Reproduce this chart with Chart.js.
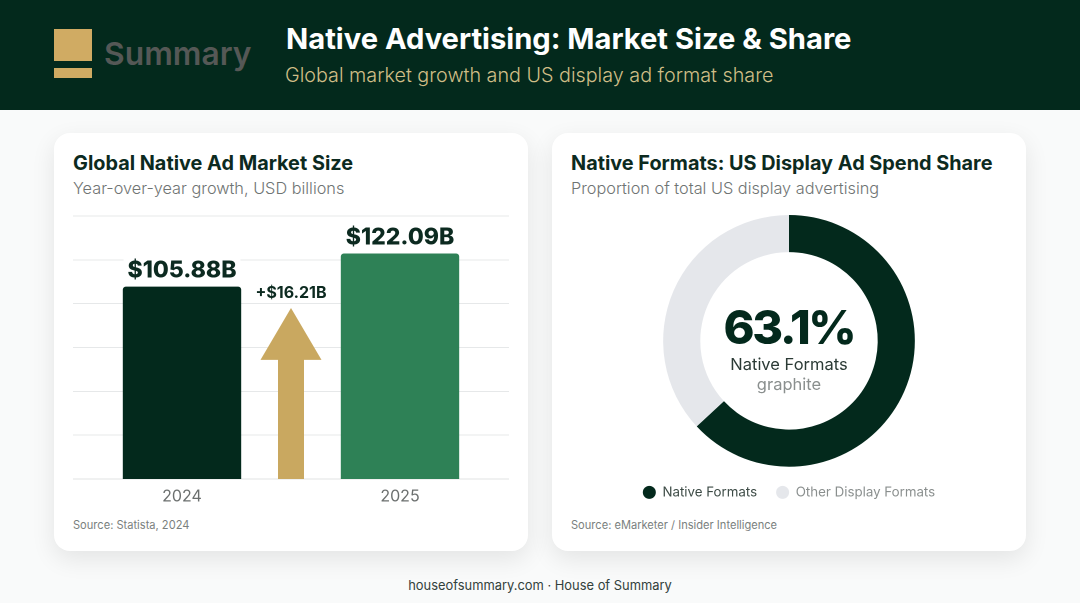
<!DOCTYPE html>
<html>
<head>
<meta charset="utf-8">
<title>Native Advertising: Market Size & Share</title>
<script src="https://cdn.jsdelivr.net/npm/chart.js@4"></script>
<style>
  * { box-sizing: border-box; margin: 0; padding: 0; }
  html, body { width: 1080px; height: 603px; overflow: hidden; background: #f9fafa; font-family: Inter, "Noto Sans", sans-serif; }
  .abs { position: absolute; white-space: nowrap; }
  #header { position: absolute; left: 0; top: 0; width: 1080px; height: 110px; background: #03291c; }
  #logoTop { left: 54px; top: 29px; width: 38px; height: 32px; background: #d0ab63; }
  #logoBottom { left: 54px; top: 68px; width: 38px; height: 10px; background: #d0ab63; }
  #logoText { left: 104px; top: 35px; font-size: 31.8px; line-height: 38px; font-weight: 600; color: #555856; }
  #title { left: 286px; top: 21px; font-size: 29.15px; line-height: 36px; font-weight: 700; color: #fff; }
  #subtitle { left: 285px; top: 62px; font-size: 19.75px; line-height: 26px; font-weight: 300; color: #d0be87; }
  .card { position: absolute; top: 133px; height: 418px; background: #fff; border-radius: 16px; box-shadow: 0 8px 24px rgba(0, 0, 0, .09); }
  .cardTitle { top: 150px; font-size: 19.85px; line-height: 26px; font-weight: 700; color: #0c2a20; }
  .cardSub { top: 177px; font-size: 16.3px; line-height: 22px; font-weight: 300; color: #6f7473; }
  .source { top: 517px; font-size: 11.1px; line-height: 16px; color: #7a7f7e; }
  canvas { position: absolute; }
  #bigValue { left: 689px; width: 200px; text-align: center; top: 299px; font-size: 47px; line-height: 56px; font-weight: 800; letter-spacing: -2.3px; color: #03291c; }
  #centerLabel { left: 689px; width: 200px; text-align: center; top: 353px; font-size: 16.5px; line-height: 22px; color: #2b3a35; }
  #centerNote { left: 689px; width: 200px; text-align: center; top: 373px; font-size: 16.5px; line-height: 22px; color: #8a8f8e; }
  #footer { left: 0; width: 1080px; text-align: center; top: 577px; font-size: 12.9px; line-height: 18px; color: #33413c; }
</style>
</head>
<body>
<div id="header"></div>
<div class="abs" id="logoTop"></div>
<div class="abs" id="logoBottom"></div>
<div class="abs" id="logoText">Summary</div>
<div class="abs" id="title">Native Advertising: Market Size &amp; Share</div>
<div class="abs" id="subtitle">Global market growth and US display ad format share</div>

<div class="card" style="left:54px;width:474px"></div>
<div class="card" style="left:552px;width:474px"></div>

<div class="abs cardTitle" style="left:73px">Global Native Ad Market Size</div>
<div class="abs cardSub" style="left:73px">Year-over-year growth, USD billions</div>
<canvas id="barChart" style="left:73px;top:206px;width:436px;height:304px"></canvas>
<div class="abs source" style="left:73px">Source: Statista, 2024</div>

<div class="abs cardTitle" style="left:571px">Native Formats: US Display Ad Spend Share</div>
<div class="abs cardSub" style="left:571px">Proportion of total US display advertising</div>
<canvas id="donutChart" style="left:552px;top:215px;width:474px;height:294px"></canvas>
<div class="abs" id="bigValue"></div>
<div class="abs" id="centerLabel"></div>
<div class="abs" id="centerNote">graphite</div>
<div class="abs source" style="left:571px">Source: eMarketer / Insider Intelligence</div>

<div class="abs" id="footer">houseofsummary.com · House of Summary</div>

<script>
// bar chart data
const years = ['2024', '2025'];
const marketSize = [105.88, 122.09];
const barColors = ['#03291c', '#2e8156'];
const growthLabel = '+$16.21B';
const arrowTop = 95.4;
const arrowNeck = 69.9;

// doughnut data
const formatNames = ['Native Formats', 'Other Display Formats'];
const formatShare = [63.1, 36.9];
const formatColors = ['#03291c', '#e5e7eb'];
const legendTextColors = ['#3c4a45', '#8a8f8e'];

const fontFamily = 'Inter, "Noto Sans", sans-serif';

document.getElementById('bigValue').textContent = formatShare[0] + '%';
document.getElementById('centerLabel').textContent = formatNames[0];


// value labels over the bars, with a white box that hides the grid line behind
const barLabels = {
    id: 'barLabels',
    afterDatasetsDraw(chart) {
        const ctx = chart.ctx;
        const meta = chart.getDatasetMeta(0);
        ctx.save();
        ctx.font = '800 23px ' + fontFamily;
        ctx.textAlign = 'center';
        ctx.textBaseline = 'middle';
        meta.data.forEach((bar, i) => {
            const text = '$' + marketSize[i].toFixed(2) + 'B';
            const w = ctx.measureText(text).width;
            ctx.fillStyle = '#fff';
            ctx.fillRect(bar.x - w / 2 - 4, bar.y - 30, w + 8, 28);
            ctx.fillStyle = '#0c2a20';
            ctx.fillText(text, bar.x, bar.y - 16);
        });
        ctx.restore();
    }
};


// growth arrow between the two bars
const growthArrow = {
    id: 'growthArrow',
    afterDatasetsDraw(chart) {
        const ctx = chart.ctx;
        const x = chart.scales.x.getPixelForValue(0.5);
        const base = chart.scales.y.getPixelForValue(chart.scales.y.min);
        const tip = chart.scales.y.getPixelForValue(arrowTop);
        const neck = chart.scales.y.getPixelForValue(arrowNeck);
        ctx.save();
        ctx.fillStyle = '#c9a860';
        ctx.beginPath();
        ctx.moveTo(x, tip);
        ctx.lineTo(x + 30.5, neck);
        ctx.lineTo(x + 13, neck);
        ctx.lineTo(x + 13, base);
        ctx.lineTo(x - 13, base);
        ctx.lineTo(x - 13, neck);
        ctx.lineTo(x - 30.5, neck);
        ctx.closePath();
        ctx.fill();
        ctx.font = '700 16px ' + fontFamily;
        ctx.textAlign = 'center';
        ctx.textBaseline = 'middle';
        ctx.fillStyle = '#0c2a20';
        ctx.fillText(growthLabel, x, tip - 15);
        ctx.restore();
    }
};


new Chart(document.getElementById('barChart'), {
    type: 'bar',
    data: {
        labels: years,
        datasets: [{
            data: marketSize,
            backgroundColor: barColors,
            borderRadius: { topLeft: 3, topRight: 3, bottomLeft: 0, bottomRight: 0 },
            borderSkipped: false,
            categoryPercentage: 1,
            barPercentage: 0.543
        }]
    },
    options: {
        responsive: false,
        animation: false,
        devicePixelRatio: 2,
        layout: { padding: { top: 10 } },
        plugins: { legend: { display: false }, tooltip: { enabled: false } },
        scales: {
            x: {
                grid: { display: false },
                border: { color: '#e0e2e3' },
                ticks: { color: '#6b6f6e', font: { family: fontFamily, size: 16 }, padding: 0 },
                afterFit: s => { s.height = 31; }
            },
            y: {
                min: 11.5,
                max: 140.5,
                grid: { color: '#e6e8e9', drawTicks: false },
                border: { display: false },
                ticks: { display: false, stepSize: 21.5 },
                afterFit: s => { s.width = 0; }
            }
        }
    },
    plugins: [growthArrow, barLabels]
});


new Chart(document.getElementById('donutChart'), {
    type: 'doughnut',
    data: {
        labels: formatNames,
        datasets: [{
            data: formatShare,
            backgroundColor: formatColors,
            borderWidth: 0
        }]
    },
    options: {
        responsive: false,
        animation: false,
        devicePixelRatio: 2,
        cutout: '70.5%',
        plugins: {
            tooltip: { enabled: false },
            legend: {
                position: 'bottom',
                labels: {
                    usePointStyle: true,
                    pointStyle: 'circle',
                    boxWidth: 13,
                    boxHeight: 9.2,
                    padding: 19,
                    font: { family: fontFamily, size: 13.3 },
                    generateLabels(chart) {
                        return formatNames.map((name, i) => ({
                            text: name,
                            fillStyle: formatColors[i],
                            strokeStyle: formatColors[i],
                            lineWidth: 0,
                            fontColor: legendTextColors[i],
                            pointStyle: 'circle',
                            index: i
                        }));
                    }
                }
            }
        }
    }
});
</script>
</body>
</html>
